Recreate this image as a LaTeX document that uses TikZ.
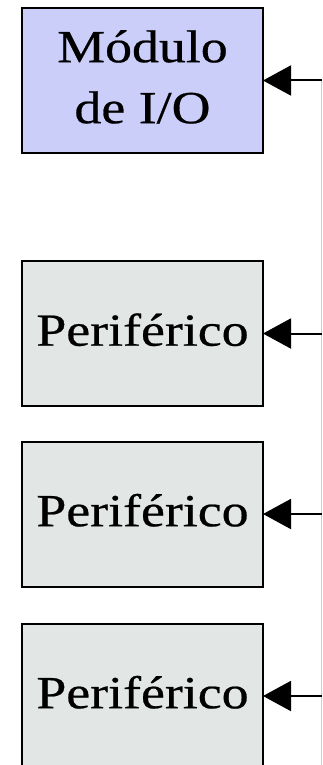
\documentclass[tikz,border=0pt]{standalone}
\usepackage{fontspec}
\setmainfont{Liberation Serif}[FakeBold=0.5]
\usetikzlibrary{arrows.meta}

\definecolor{modfill}{RGB}{204,206,250}
\definecolor{perfill}{RGB}{226,230,228}
\definecolor{busgray}{RGB}{205,205,205}

% wide, slightly stretched label text
\newcommand{\widelabel}[1]{\scalebox{1.17}[1]{\fontsize{46}{61}\selectfont\begin{tabular}{@{}c@{}}#1\end{tabular}}}

\begin{document}
\begin{tikzpicture}[x=1pt,y=-1pt,
  unitbox/.style={draw=black, line width=2pt, minimum width=241pt,
    minimum height=145pt, inner sep=0pt, text=black},
  iobox/.style={unitbox, fill=modfill},
  perbox/.style={unitbox, fill=perfill},
  feed/.style={line width=2pt, -{Triangle[length=28pt,width=30pt]}, shorten >=-1pt},
  bus/.style={busgray, line width=1pt}]

  \useasboundingbox (0,0) rectangle (322,765);

  % module and peripherals
  \node[iobox]  (io) at (142.5,80.5)  {\widelabel{Módulo\\de I/O}};
  \node[perbox] (p1) at (142.5,333.5) {\widelabel{Periférico}};
  \node[perbox] (p2) at (142.5,514)   {\widelabel{Periférico}};
  \node[perbox] (p3) at (142.5,696)   {\widelabel{Periférico}};

  % shared line on the right edge
  \coordinate (btop) at (321.5,80.5);
  \coordinate (bbot) at (321.5,765);
  \coordinate (b0) at (322,80.5);
  \coordinate (b1) at (322,333.5);
  \coordinate (b2) at (322,514);
  \coordinate (b3) at (322,696);
  \draw[bus] (btop) -- (bbot);

  % branches into each unit
  \draw[feed] (b0) -- (io.east);
  \draw[feed] (b1) -- (p1.east);
  \draw[feed] (b2) -- (p2.east);
  \draw[feed] (b3) -- (p3.east);
\end{tikzpicture}
\end{document}
